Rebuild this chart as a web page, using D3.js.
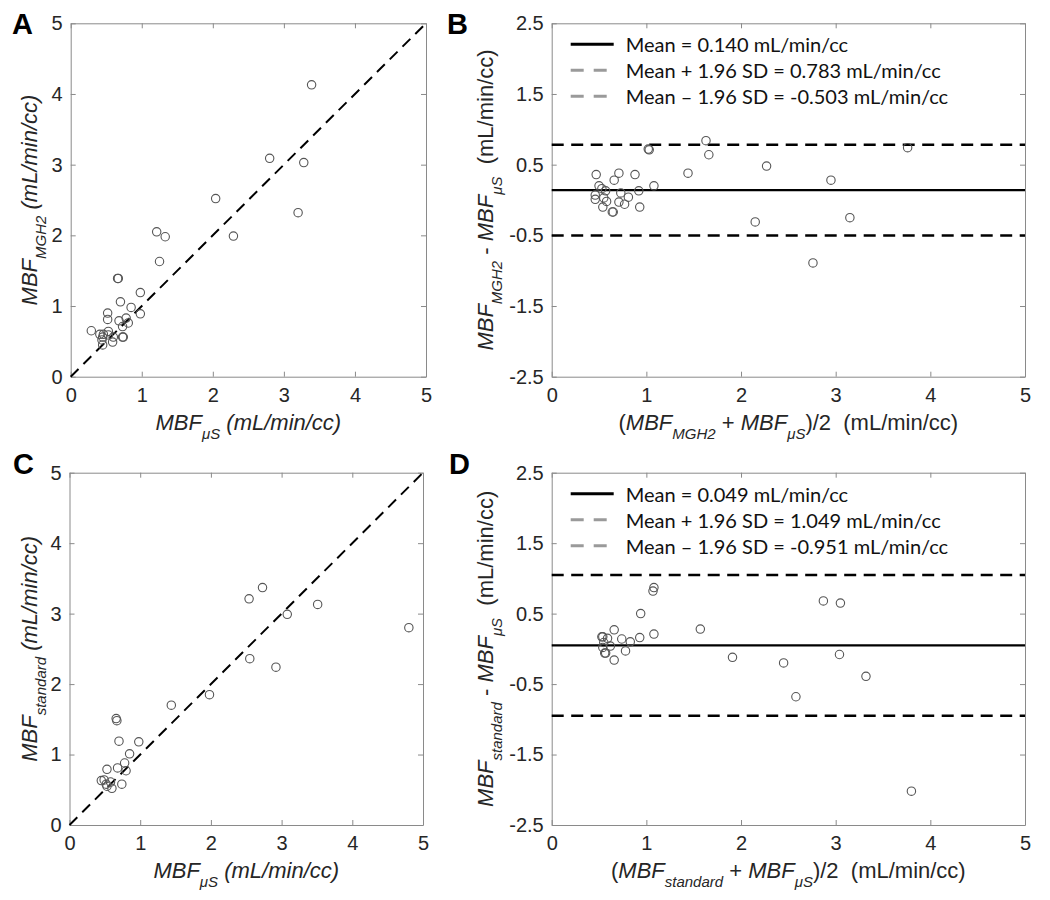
<!DOCTYPE html>
<html>
<head>
<meta charset="utf-8">
<script src="https://cdn.jsdelivr.net/npm/d3@7"></script>
<style>
  body { margin: 0; background: #ffffff; }
  svg { display: block; }
</style>
</head>
<body>
<svg id="chart" width="1050" height="900"></svg>
<script>
// ---------------- DATA ----------------
const scatterTicks = [0, 1, 2, 3, 4, 5];
const baTicksX = [0, 1, 2, 3, 4, 5];
const baTicksY = [-2.5, -1.5, -0.5, 0.5, 1.5, 2.5];
const panelLetters = ["A", "B", "C", "D"];

// Panel A: MBF_muS (x) vs MBF_MGH2 (y)
const A_muS  = [3.39, 2.80, 3.28, 2.04, 3.20, 2.29, 1.21, 1.33, 1.25, 0.66, 0.67, 0.98, 0.70, 0.85, 0.52, 0.98, 0.52, 0.68, 0.78, 0.81, 0.73, 0.29, 0.41, 0.46, 0.53, 0.45, 0.53, 0.60, 0.73, 0.74, 0.44, 0.45, 0.59];
const A_mgh2 = [4.13, 3.09, 3.03, 2.52, 2.32, 1.99, 2.05, 1.98, 1.63, 1.39, 1.39, 1.19, 1.06, 0.98, 0.90, 0.89, 0.81, 0.79, 0.83, 0.76, 0.71, 0.65, 0.60, 0.60, 0.64, 0.56, 0.59, 0.56, 0.56, 0.56, 0.52, 0.45, 0.49];

// Panel B: Bland-Altman MGH2 vs muS
const B_mean = [3.76, 1.63, 1.66, 1.02, 1.03, 2.27, 1.44, 2.95, 1.08, 2.15, 3.15, 2.76, 0.47, 0.71, 0.88, 0.66, 0.50, 0.53, 0.57, 0.92, 0.73, 0.46, 0.81, 0.46, 0.55, 0.58, 0.71, 0.77, 0.54, 0.93, 0.64, 0.65];
const B_diff = [0.74, 0.84, 0.64, 0.72, 0.71, 0.48, 0.38, 0.28, 0.20, -0.31, -0.25, -0.89, 0.36, 0.38, 0.36, 0.28, 0.20, 0.16, 0.13, 0.13, 0.10, 0.07, 0.04, 0.01, 0.03, -0.02, -0.03, -0.06, -0.10, -0.10, -0.17, -0.17];
const B_stats = [0.140, 0.783, -0.503];
const B_legend = ["Mean = 0.140 mL/min/cc", "Mean + 1.96 SD = 0.783 mL/min/cc", "Mean \u2013 1.96 SD = -0.503 mL/min/cc"];

// Panel C: MBF_muS (x) vs MBF_standard (y)
const C_muS = [4.80, 2.73, 2.54, 3.51, 3.08, 2.55, 2.92, 1.98, 1.44, 0.66, 0.67, 0.70, 0.98, 0.85, 0.78, 0.80, 0.68, 0.53, 0.45, 0.49, 0.52, 0.58, 0.74, 0.53, 0.60];
const C_std = [2.80, 3.37, 3.21, 3.13, 2.99, 2.36, 2.24, 1.85, 1.70, 1.51, 1.48, 1.19, 1.18, 1.01, 0.88, 0.77, 0.81, 0.79, 0.63, 0.64, 0.58, 0.61, 0.58, 0.55, 0.52];

// Panel D: Bland-Altman standard vs muS
const D_mean = [3.80, 2.87, 3.05, 3.04, 3.32, 2.58, 2.45, 1.91, 1.57, 1.08, 1.07, 0.94, 1.08, 0.93, 0.66, 0.74, 0.83, 0.53, 0.54, 0.59, 0.55, 0.54, 0.62, 0.78, 0.56, 0.57, 0.66];
const D_diff = [-2.02, 0.68, 0.65, -0.08, -0.39, -0.68, -0.20, -0.12, 0.28, 0.87, 0.82, 0.50, 0.21, 0.16, 0.27, 0.14, 0.10, 0.17, 0.17, 0.15, 0.09, 0.02, 0.04, -0.03, -0.06, -0.06, -0.16];
const D_stats = [0.049, 1.049, -0.951];
const D_legend = ["Mean = 0.049 mL/min/cc", "Mean + 1.96 SD = 1.049 mL/min/cc", "Mean \u2013 1.96 SD = -0.951 mL/min/cc"];

// ---------------- DRAWING ----------------
const svg = d3.select("#chart");
const FONT = "'Liberation Sans', Arial, Helvetica, sans-serif";
const FRAME = "#8a8a8a";

function frame(g, x, y, xt, yt) {
  const [x0, x1] = x.range();
  const [y0, y1] = y.range();
  const fmt = d => String(d);
  const parts = [
    g.append("g").attr("transform", `translate(0,${y0})`)
      .call(d3.axisBottom(x).tickValues(xt).tickSizeInner(-5).tickSizeOuter(0).tickPadding(11).tickFormat(fmt)),
    g.append("g").attr("transform", `translate(0,${y1})`)
      .call(d3.axisTop(x).tickValues(xt).tickSizeInner(-5).tickSizeOuter(0).tickFormat("")),
    g.append("g").attr("transform", `translate(${x0},0)`)
      .call(d3.axisLeft(y).tickValues(yt).tickSizeInner(-5).tickSizeOuter(0).tickPadding(8).tickFormat(fmt)),
    g.append("g").attr("transform", `translate(${x1},0)`)
      .call(d3.axisRight(y).tickValues(yt).tickSizeInner(-5).tickSizeOuter(0).tickFormat(""))
  ];
  parts.forEach(p => {
    p.attr("font-size", 20).attr("font-family", FONT);
    p.selectAll(".domain").attr("stroke", FRAME).attr("stroke-width", 1);
    p.selectAll(".tick line").attr("stroke", FRAME).attr("stroke-width", 1);
    p.selectAll(".tick text").attr("fill", "#262626");
  });
}

// label made of parts: {t, it (italic), sub (subscript)}
function label(g, parts, x, y, rotate) {
  const t = g.append("text")
    .attr("transform", `translate(${x},${y})` + (rotate ? " rotate(-90)" : ""))
    .attr("text-anchor", "middle")
    .attr("font-family", FONT)
    .attr("font-size", 22)
    .attr("fill", "#262626")
    .style("white-space", "pre");
  let inSub = false;
  parts.forEach(p => {
    const s = t.append("tspan").text(p.t)
      .attr("font-style", p.it ? "italic" : "normal");
    if (p.sub) {
      s.attr("font-size", 15);
      if (!inSub) { s.attr("dy", 9); inSub = true; }
    } else if (inSub) {
      s.attr("dy", -9); inSub = false;
    }
  });
}

function scatterPanel(box, xs, ys, letterPos, letter, yLabelParts, xLabelParts, yLabX, xLabY) {
  const x = d3.scaleLinear().domain([0, 5]).range([box.l, box.r]);
  const y = d3.scaleLinear().domain([0, 5]).range([box.b, box.t]);
  const g = svg.append("g");
  frame(g, x, y, scatterTicks, scatterTicks);
  g.append("line")
    .attr("x1", x(0)).attr("y1", y(0)).attr("x2", x(5)).attr("y2", y(5))
    .attr("stroke", "#000").attr("stroke-width", 2).attr("stroke-dasharray", "11,7");
  g.selectAll("circle.pt").data(xs.map((v, i) => [v, ys[i]])).join("circle")
    .attr("class", "pt")
    .attr("cx", d => x(d[0])).attr("cy", d => y(d[1])).attr("r", 4.2)
    .attr("fill", "none").attr("stroke", "#555").attr("stroke-width", 1.1);
  label(g, yLabelParts, yLabX, (box.t + box.b) / 2, true);
  label(g, xLabelParts, (box.l + box.r) / 2, xLabY, false);
  g.append("text").attr("x", letterPos[0]).attr("y", letterPos[1])
    .attr("font-family", FONT).attr("font-weight", "bold").attr("font-size", 29)
    .attr("fill", "#000").text(letter);
}

function baPanel(box, xs, ys, stats, legendTexts, letterPos, letter, yLabelParts, xLabelParts, yLabX, xLabY) {
  const x = d3.scaleLinear().domain([0, 5]).range([box.l, box.r]);
  const y = d3.scaleLinear().domain([-2.5, 2.5]).range([box.b, box.t]);
  const g = svg.append("g");
  frame(g, x, y, baTicksX, baTicksY);
  stats.forEach((s, i) => {
    g.append("line")
      .attr("x1", x(0)).attr("x2", x(5)).attr("y1", y(s)).attr("y2", y(s))
      .attr("stroke", "#000")
      .attr("stroke-width", i === 0 ? 2.3 : 2.5)
      .attr("stroke-dasharray", i === 0 ? null : "12,7.5");
  });
  g.selectAll("circle.pt").data(xs.map((v, i) => [v, ys[i]])).join("circle")
    .attr("class", "pt")
    .attr("cx", d => x(d[0])).attr("cy", d => y(d[1])).attr("r", 4.2)
    .attr("fill", "none").attr("stroke", "#555").attr("stroke-width", 1.1);
  // legend
  legendTexts.forEach((txt, i) => {
    const base = box.t + 29 + i * 26;
    g.append("line")
      .attr("x1", box.l + 19).attr("x2", box.l + 62)
      .attr("y1", base - 8).attr("y2", base - 8)
      .attr("stroke", i === 0 ? "#000" : "#9a9a9a")
      .attr("stroke-width", 3)
      .attr("stroke-dasharray", i === 0 ? null : "13,10");
    g.append("text").attr("x", box.l + 74).attr("y", base)
      .attr("font-family", "Lato, 'Open Sans', sans-serif").attr("font-size", 20)
      .attr("fill", "#111").style("white-space", "pre").text(txt);
  });
  label(g, yLabelParts, yLabX, (box.t + box.b) / 2, true);
  label(g, xLabelParts, (box.l + box.r) / 2, xLabY, false);
  g.append("text").attr("x", letterPos[0]).attr("y", letterPos[1])
    .attr("font-family", FONT).attr("font-weight", "bold").attr("font-size", 29)
    .attr("fill", "#000").text(letter);
}

const unitsIt = { t: " (mL/min/cc)", it: true };
const unitsUp = { t: "  (mL/min/cc)", it: false };

scatterPanel({ l: 70.7, r: 426, t: 23.3, b: 376.7 }, A_muS, A_mgh2, [12, 34], panelLetters[0],
  [{ t: "MBF", it: true }, { t: "MGH2", it: true, sub: true }, unitsIt],
  [{ t: "MBF", it: true }, { t: "\u03BCS", it: true, sub: true }, unitsIt],
  37, 430);

baPanel({ l: 551.7, r: 1025, t: 23.3, b: 376.7 }, B_mean, B_diff, B_stats, B_legend, [447, 34], panelLetters[1],
  [{ t: "MBF", it: true }, { t: "MGH2", it: true, sub: true }, { t: " - ", it: false }, { t: "MBF", it: true }, { t: "\u03BCS", it: true, sub: true }, unitsUp],
  [{ t: "(", it: false }, { t: "MBF", it: true }, { t: "MGH2", it: true, sub: true }, { t: " + ", it: false }, { t: "MBF", it: true }, { t: "\u03BCS", it: true, sub: true }, { t: ")/2", it: false }, unitsUp],
  493, 430);

scatterPanel({ l: 69.5, r: 423, t: 472.7, b: 825 }, C_muS, C_std, [13, 474], panelLetters[2],
  [{ t: "MBF", it: true }, { t: "standard", it: true, sub: true }, unitsIt],
  [{ t: "MBF", it: true }, { t: "\u03BCS", it: true, sub: true }, unitsIt],
  37, 878);

baPanel({ l: 551.7, r: 1025, t: 472.7, b: 825 }, D_mean, D_diff, D_stats, D_legend, [449, 474], panelLetters[3],
  [{ t: "MBF", it: true }, { t: "standard", it: true, sub: true }, { t: " - ", it: false }, { t: "MBF", it: true }, { t: "\u03BCS", it: true, sub: true }, unitsUp],
  [{ t: "(", it: false }, { t: "MBF", it: true }, { t: "standard", it: true, sub: true }, { t: " + ", it: false }, { t: "MBF", it: true }, { t: "\u03BCS", it: true, sub: true }, { t: ")/2", it: false }, unitsUp],
  493, 878);
</script>
</body>
</html>
